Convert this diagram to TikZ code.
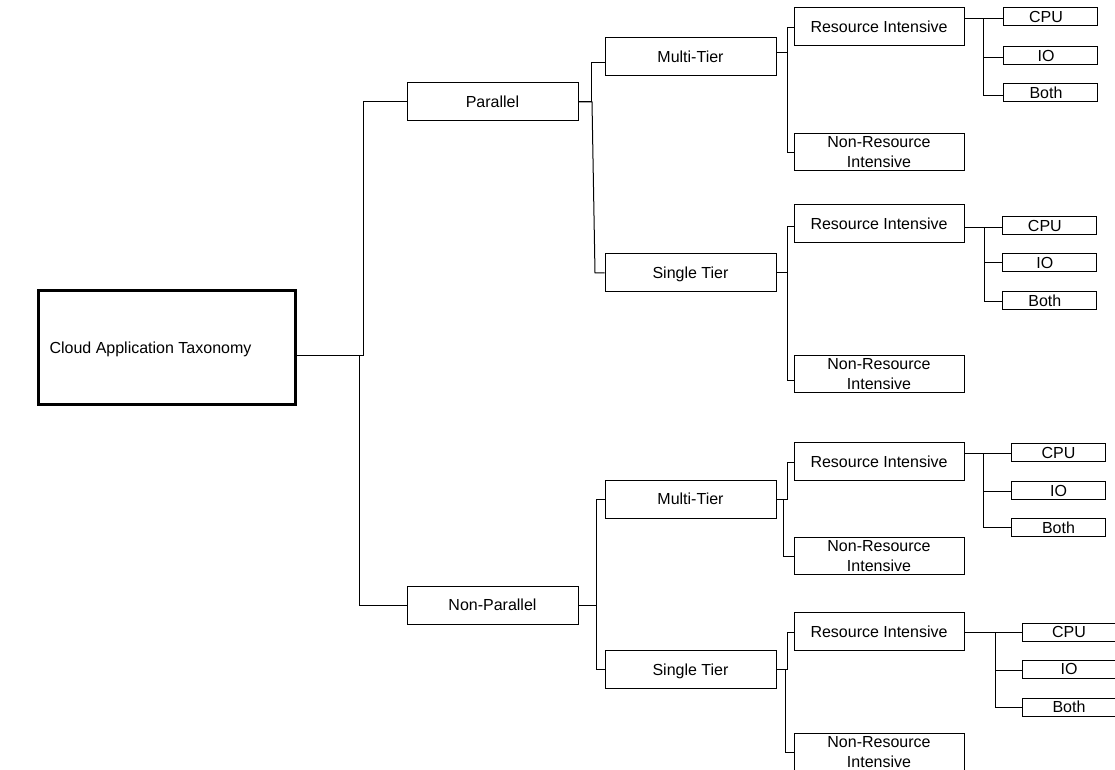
\documentclass[tikz,border=0pt]{standalone}
\usepackage{fontspec}
\setmainfont{Liberation Sans}
\begin{document}
\begin{tikzpicture}[x=0.75pt,y=-0.75pt,
  every node/.style={font=\fontsize{12}{15}\selectfont, inner sep=0pt},
  box/.style={draw=black, line width=0.75pt, fill=white, align=center},
  rootbox/.style={box, line width=2.25pt, minimum width=192.75pt, minimum height=84.75pt, text height=8.7pt, text depth=0pt},
  midbox/.style={box, minimum width=128.25pt, minimum height=28.5pt, text height=8.7pt, text depth=0pt},
  resbox/.style={box, minimum width=127.5pt, minimum height=28.125pt},
  onel/.style={text height=8.7pt, text depth=0pt},
  leafbox/.style={box, minimum width=70.5pt, minimum height=13.5pt, text height=8.7pt, text depth=0pt},
  link/.style={draw=black, line width=0.75pt}]
\clip (0,0) rectangle (1115,770);

% root and first level
\node[rootbox] (root) at (166.5,347.5) {Cloud Application Taxonomy\hspace*{24pt}};
\node[midbox] (par)  at (492.5,102) {Parallel};
\node[midbox] (npar) at (492.5,605) {Non-Parallel};

% second level
\node[midbox] (mt1) at (690.5,57)    {Multi-Tier};
\node[midbox] (st1) at (690.5,272.5) {Single Tier};
\node[midbox] (mt2) at (690.5,499)   {Multi-Tier};
\node[midbox] (st2) at (690.5,669.5) {Single Tier};

% resource level
\node[resbox,onel] (ri1)  at (879,26.5)  {Resource Intensive};
\node[resbox]      (nri1) at (879,152)   {Non-Resource\\Intensive};
\node[resbox,onel] (ri2)  at (879,223.5) {Resource Intensive};
\node[resbox]      (nri2) at (879,374)   {Non-Resource\\Intensive};
\node[resbox,onel] (ri3)  at (879,461.5) {Resource Intensive};
\node[resbox]      (nri3) at (879,556)   {Non-Resource\\Intensive};
\node[resbox,onel] (ri4)  at (879,631.5) {Resource Intensive};
\node[resbox]      (nri4) at (879,752)   {Non-Resource\\Intensive};

% leaves
\node[leafbox] (cpu1)  at (1050,17)   {CPU\hspace*{6pt}};
\node[leafbox] (io1)   at (1050,55.5) {IO\hspace*{6pt}};
\node[leafbox] (both1) at (1050,93)   {Both\hspace*{6pt}};
\node[leafbox] (cpu2)  at (1049.5,225.5) {CPU\hspace*{7pt}};
\node[leafbox] (io2)   at (1049.5,262.5) {IO\hspace*{7pt}};
\node[leafbox] (both2) at (1049.5,301)   {Both\hspace*{7pt}};
\node[leafbox] (cpu3)  at (1058.5,452.5) {CPU};
\node[leafbox] (io3)   at (1058.5,490.5) {IO};
\node[leafbox] (both3) at (1058.5,527.5) {Both};
\node[leafbox] (cpu4)  at (1069,632) {CPU};
\node[leafbox] (io4)   at (1069,669) {IO};
\node[leafbox] (both4) at (1069,707) {Both};

% root connectors
\draw[link] (root.east |- 0,355) -| (363,102) -- (par.west |- 0,102);
\draw[link] (root.east |- 0,355) -| (359,605) -- (npar.west |- 0,605);

% Parallel branch
\draw[link] (par.east |- 0,102) -| (591,63) -- (mt1.west |- 0,63);
\draw[link] (par.east |- 0,102) -- (592,102) -- (595,273) -- (st1.west |- 0,273);

\draw[link] (mt1.east |- 0,53) -| (787,28) -- (ri1.west |- 0,28);
\draw[link] (mt1.east |- 0,53) -| (787,153) -- (nri1.west |- 0,153);

\draw[link] (ri1.east |- 0,19) -- (cpu1.west |- 0,19);
\draw[link] (ri1.east |- 0,19) -| (983,58) -- (io1.west |- 0,58);
\draw[link] (ri1.east |- 0,19) -| (983,96) -- (both1.west |- 0,96);

\draw[link] (st1.east |- 0,273) -| (787,227) -- (ri2.west |- 0,227);
\draw[link] (st1.east |- 0,273) -| (787,380) -- (nri2.west |- 0,380);

\draw[link] (ri2.east |- 0,228) -- (cpu2.west |- 0,228);
\draw[link] (ri2.east |- 0,228) -| (984,263) -- (io2.west |- 0,263);
\draw[link] (ri2.east |- 0,228) -| (984,302) -- (both2.west |- 0,302);

% Non-Parallel branch
\draw[link] (npar.east |- 0,605) -| (596,499) -- (mt2.west |- 0,499);
\draw[link] (npar.east |- 0,605) -| (596,669) -- (st2.west |- 0,669);

\draw[link] (mt2.east |- 0,499) -| (787,462) -- (ri3.west |- 0,462);
\draw[link] (mt2.east |- 0,499) -| (783,556) -- (nri3.west |- 0,556);

\draw[link] (ri3.east |- 0,453) -- (cpu3.west |- 0,453);
\draw[link] (ri3.east |- 0,453) -| (983,491) -- (io3.west |- 0,491);
\draw[link] (ri3.east |- 0,453) -| (983,527) -- (both3.west |- 0,527);

\draw[link] (st2.east |- 0,669) -| (787,632) -- (ri4.west |- 0,632);
\draw[link] (st2.east |- 0,669) -| (785,752) -- (nri4.west |- 0,752);

\draw[link] (ri4.east |- 0,632) -- (cpu4.west |- 0,632);
\draw[link] (ri4.east |- 0,632) -| (995,670) -- (io4.west |- 0,670);
\draw[link] (ri4.east |- 0,632) -| (995,707) -- (both4.west |- 0,707);
\end{tikzpicture}
\end{document}
